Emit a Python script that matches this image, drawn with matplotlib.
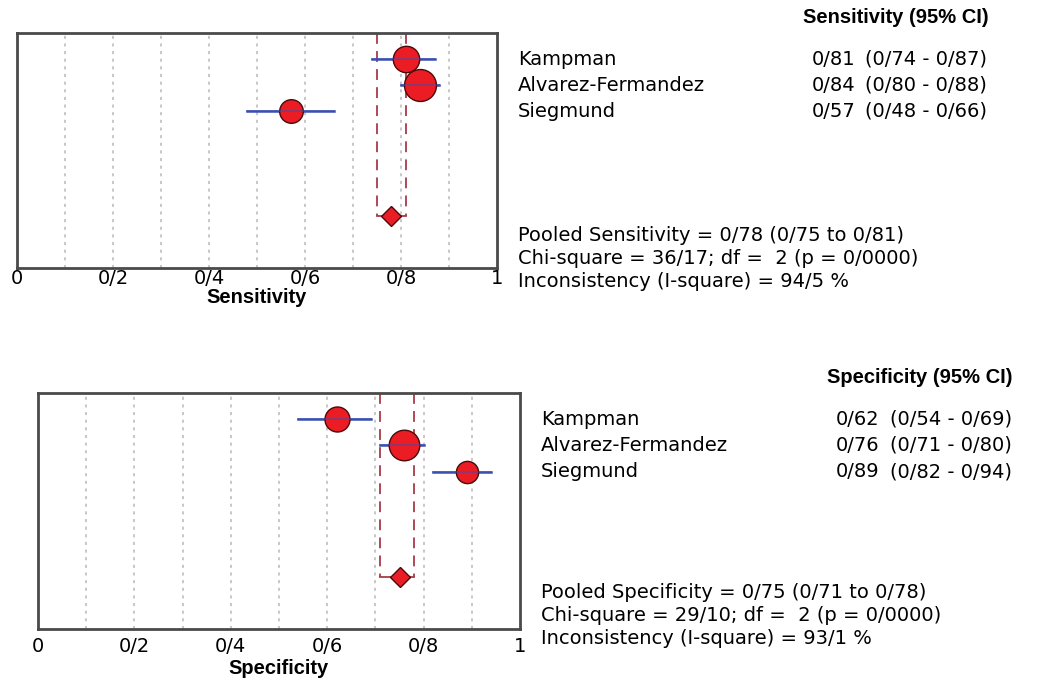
import matplotlib
matplotlib.use("Agg")
import matplotlib.pyplot as plt

plt.rcParams["font.family"] = ["DejaVu Sans"]

# ── Données ───────────────────────────────────────────────────────────────
studies = ["Kampman", "Alvarez-Fermandez", "Siegmund"]

sens = [0.81, 0.84, 0.57]
sens_lo = [0.74, 0.80, 0.48]
sens_hi = [0.87, 0.88, 0.66]
sens_pooled, sens_pooled_lo, sens_pooled_hi = 0.78, 0.75, 0.81
sens_stats = ["Pooled Sensitivity = 0/78 (0/75 to 0/81)",
              "Chi-square = 36/17; df =  2 (p = 0/0000)",
              "Inconsistency (I-square) = 94/5 %"]

spec = [0.62, 0.76, 0.89]
spec_lo = [0.54, 0.71, 0.82]
spec_hi = [0.69, 0.80, 0.94]
spec_pooled, spec_pooled_lo, spec_pooled_hi = 0.75, 0.71, 0.78
spec_stats = ["Pooled Specificity = 0/75 (0/71 to 0/78)",
              "Chi-square = 29/10; df =  2 (p = 0/0000)",
              "Inconsistency (I-square) = 93/1 %"]

tick_vals = [0, 0.2, 0.4, 0.6, 0.8, 1]
tick_labels = ["0", "0/2", "0/4", "0/6", "0/8", "1"]

# ── Style ────────────────────────────────────────────────────────────────
RED = "#ec1c24"
EDGE = "#4a0a0a"
BLUE = "#3a4fb0"
DASH_RED = "#a83a48"
FRAME = "#4a4a4a"
GRID = "#b8b8b8"
BOLD = "Liberation Sans"


def fmt(v):
    return f"0/{round(v * 100):02d}"


def forest(ax, est, lo, hi, pooled, p_lo, p_hi, stats, label, title, msizes,
           tick_pad=1, label_pad=0, stats_y=(7.75, 8.62, 9.5)):
    rows = [1, 2, 3]
    y_pool = 7
    ax.set_xlim(0, 1)
    ax.set_ylim(9, 0)

    for g in [0.1 * k for k in range(1, 10)]:
        ax.axvline(g, color=GRID, lw=1.1, ls=(0, (2, 3)), zorder=0)

    # intervalle poolé en pointillés rouges
    for xv in (p_lo, p_hi):
        ax.plot([xv, xv], [0, y_pool], color=DASH_RED, lw=1.3,
                ls=(0, (6, 4)), zorder=1)
    ax.plot([p_lo, p_hi], [y_pool, y_pool], color=DASH_RED, lw=1.3, zorder=1)

    for r, e, l, h, ms in zip(rows, est, lo, hi, msizes):
        ax.plot([l, h], [r, r], color=BLUE, lw=1.8, zorder=2)
        ax.plot(e, r, "o", ms=ms, mfc=RED, mec=EDGE, mew=1.0, zorder=3)
        ax.plot([l, h], [r, r], color=BLUE, lw=1.2, alpha=0.6, zorder=4)
    ax.plot(pooled, y_pool, "D", ms=10, mfc=RED, mec=EDGE, mew=1.0, zorder=3)

    for s in ax.spines.values():
        s.set_color(FRAME)
        s.set_linewidth(2)
    ax.set_yticks([])
    ax.set_xticks(tick_vals)
    ax.set_xticklabels(tick_labels, fontsize=14)
    ax.tick_params(axis="x", length=0, pad=tick_pad)
    ax.set_xlabel(label, fontsize=14.5, fontweight="bold", family=BOLD,
                  labelpad=label_pad)

    # tableau à droite
    ax.text(1.83, -0.58, title, ha="center", va="center", fontsize=14.5,
            fontweight="bold", family=BOLD, clip_on=False)
    for r, name, e, l, h in zip(rows, studies, est, lo, hi):
        ax.text(1.044, r, name, ha="left", va="center", fontsize=14,
                clip_on=False)
        ax.text(1.746, r, fmt(e), ha="right", va="center", fontsize=14,
                clip_on=False)
        ax.text(1.767, r, f"({fmt(l)} - {fmt(h)})", ha="left", va="center",
                fontsize=14, clip_on=False)
    for yy, line in zip(stats_y, stats):
        ax.text(1.044, yy, line, ha="left", va="center", fontsize=14,
                clip_on=False)


fig = plt.figure(figsize=(10.39, 6.82), dpi=100)
fig.patch.set_facecolor("white")

ax1 = fig.add_axes([17 / 1039, 1 - 268 / 682, 480 / 1039, 235 / 682])
forest(ax1, sens, sens_lo, sens_hi, sens_pooled, sens_pooled_lo,
       sens_pooled_hi, sens_stats, "Sensitivity", "Sensitivity (95% CI)",
       [19, 23, 17])

ax2 = fig.add_axes([38 / 1039, 1 - 629 / 682, 482 / 1039, 236 / 682])
forest(ax2, spec, spec_lo, spec_hi, spec_pooled, spec_pooled_lo,
       spec_pooled_hi, spec_stats, "Specificity", "Specificity (95% CI)",
       [18, 22, 16], tick_pad=6, label_pad=2, stats_y=(7.6, 8.48, 9.36))

fig.savefig("out.png", dpi=100, facecolor="white")
